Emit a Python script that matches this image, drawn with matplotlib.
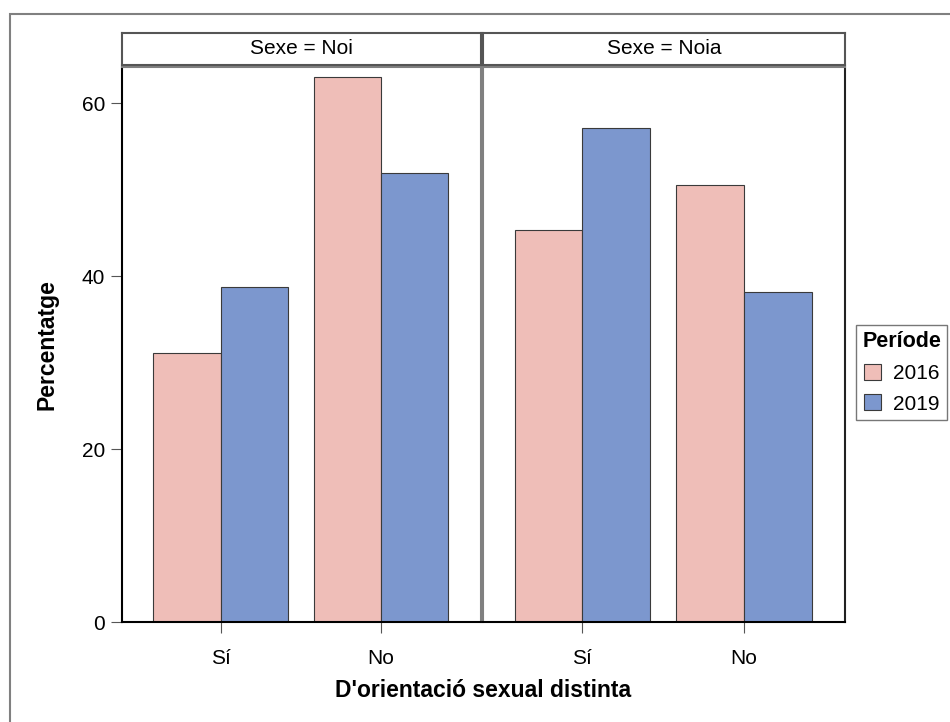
import matplotlib
matplotlib.use("Agg")
import matplotlib.pyplot as plt
from matplotlib.patches import Rectangle, Patch
import numpy as np

plt.rcParams['font.family'] = ['Liberation Sans', 'DejaVu Sans']

categories = ["Sí", "No"]
panels = ["Sexe = Noi", "Sexe = Noia"]
years = ["2016", "2019"]
values = {
    "Sexe = Noi": {"2016": [31.1, 63.0], "2019": [38.7, 51.9]},
    "Sexe = Noia": {"2016": [45.3, 50.5], "2019": [57.1, 38.2]},
}
colors = {"2016": "#EFBEB8", "2019": "#7C97CE"}

fig = plt.figure(figsize=(9.5, 7.22), dpi=100)

# outer frame
fig.add_artist(Rectangle((10/950, -0.1), 1.2, 1 - 14/722 + 0.1, transform=fig.transFigure,
                         fill=False, edgecolor="#808080", linewidth=1.5, clip_on=False))

lefts = [122/950, 483/950]
rights = [481/950, 845/950]
bottom = 1 - 622/722
top = 1 - 67/722
strip_b = 1 - 65/722
strip_t = 1 - 33/722

x = np.arange(len(categories))
w = 0.42
axes = []
for i, p in enumerate(panels):
    ax = fig.add_axes([lefts[i], bottom, rights[i] - lefts[i], top - bottom])
    axes.append(ax)
    ax.bar(x - w/2, values[p]["2016"], w, color=colors["2016"], edgecolor="#3a3a3a", linewidth=0.8)
    ax.bar(x + w/2, values[p]["2019"], w, color=colors["2019"], edgecolor="#3a3a3a", linewidth=0.8)
    ax.set_xlim(-0.615, 1.625)
    ax.set_ylim(0, 64.2)
    ax.set_xticks(x)
    ax.set_xticklabels(categories, fontsize=15)
    ax.tick_params(axis='x', length=8, width=0.8, color="#555555", pad=11.5)
    for s in ['top', 'right', 'left']:
        ax.spines[s].set_color("#808080")
        ax.spines[s].set_linewidth(1.5)
    ax.spines['bottom'].set_color("black")
    ax.spines['bottom'].set_linewidth(1.5)
    if i == 0:
        ax.set_yticks([0, 20, 40, 60])
        ax.tick_params(axis='y', length=8, width=0.8, color="#555555", labelsize=15, pad=4)
        ax.spines['left'].set_color("black")
    else:
        ax.set_yticks([])
        ax.spines['right'].set_color("#222222")
    # strip
    sax = fig.add_axes([lefts[i], strip_b, rights[i] - lefts[i], strip_t - strip_b])
    sax.set_xticks([]); sax.set_yticks([])
    for s in sax.spines.values():
        s.set_color("#555555"); s.set_linewidth(1.5)
    sax.text(0.5, 0.5, p, ha='center', va='center', fontsize=15, transform=sax.transAxes)

fig.text(47/950, (bottom + top) / 2, "Percentatge", rotation=90,
         ha='center', va='center', fontsize=16.5, fontweight='bold')
fig.text((lefts[0] + rights[1]) / 2, 1 - 697/722, "D'orientació sexual distinta",
         ha='center', va='baseline', fontsize=16.5, fontweight='bold')

handles = [Patch(facecolor=colors[y], edgecolor="#3a3a3a", linewidth=0.8, label=y) for y in years]
leg = fig.legend(handles=handles, title="Període", loc='upper left',
                 bbox_to_anchor=(856/950, 1 - 325/722), fontsize=15, title_fontsize=15.5,
                 frameon=True, fancybox=False, edgecolor="#555555", handlelength=0.8,
                 handleheight=0.8, handletextpad=0.55, borderpad=0.3, labelspacing=0.55,
                 borderaxespad=0)
leg.get_title().set_fontweight('bold')
leg.get_frame().set_linewidth(1.0)

fig.savefig("out.png", dpi=100)
